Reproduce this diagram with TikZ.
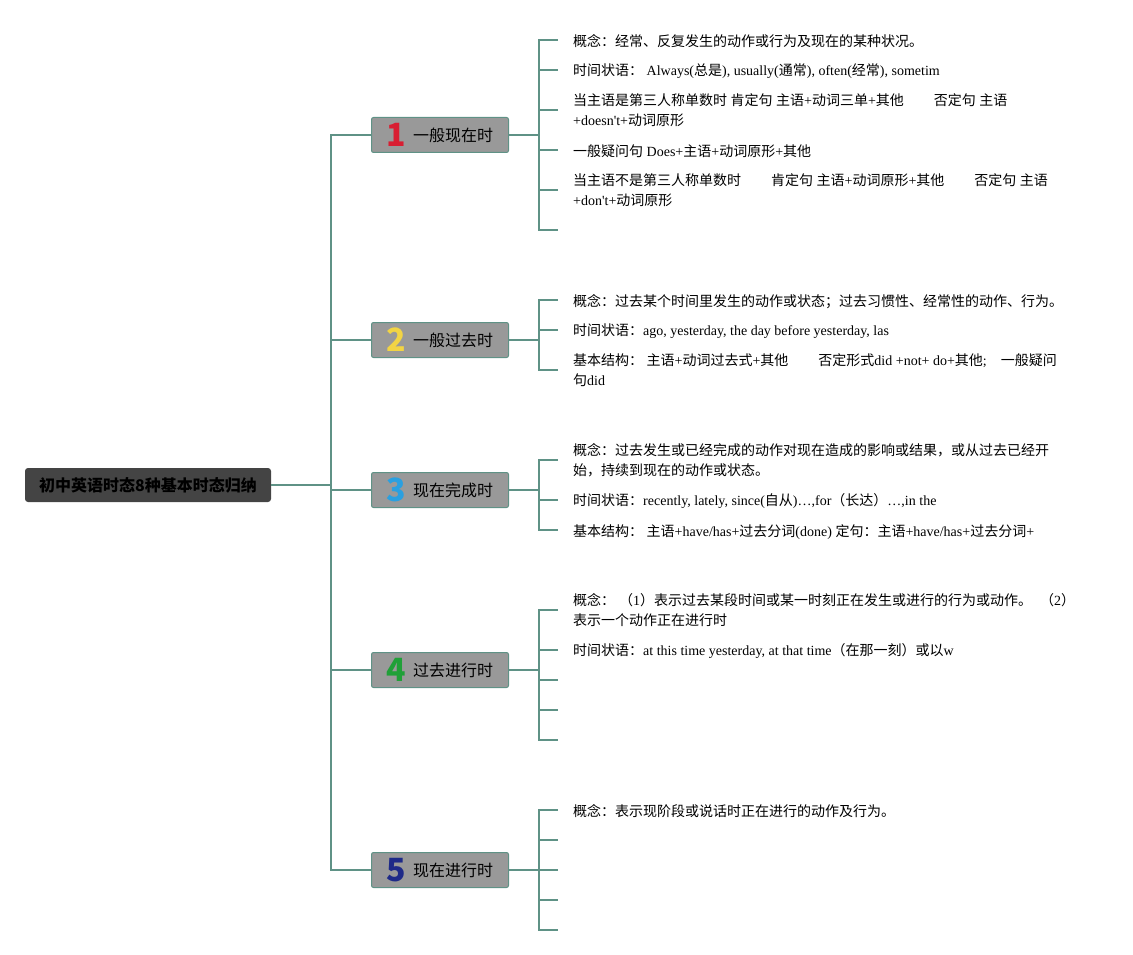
\documentclass[tikz,border=0pt]{standalone}
\usepackage{fontspec}
\setmainfont{Liberation Serif}
\newfontfamily\cjk{Noto Sans CJK SC}
\usepackage{tikz}

% han characters switch to the cjk family inside leaf texts
\newXeTeXintercharclass\hanclass
\newcount\hanchar
\hanchar="3000 \loop\ifnum\hanchar<"3040 \XeTeXcharclass\hanchar=\hanclass \advance\hanchar by 1 \repeat
\hanchar="4E00 \loop\ifnum\hanchar<"A000 \XeTeXcharclass\hanchar=\hanclass \advance\hanchar by 1 \repeat
\hanchar="FF00 \loop\ifnum\hanchar<"FFF0 \XeTeXcharclass\hanchar=\hanclass \advance\hanchar by 1 \repeat
\XeTeXinterchartoks 0 \hanclass = {\cjk}
\XeTeXinterchartoks 4095 \hanclass = {\cjk}
\XeTeXinterchartoks \hanclass 0 = {\rmfamily}
\XeTeXinterchartoks \hanclass 4095 = {\rmfamily}
\newcommand{\hanon}{\XeTeXinterchartokenstate=1\relax\rule{0pt}{15pt}}

\definecolor{linkteal}{HTML}{5F9286}
\definecolor{rootgray}{HTML}{444444}
\definecolor{tensegray}{HTML}{999999}
\definecolor{numred}{HTML}{D81E32}
\definecolor{numyellow}{HTML}{F2D444}
\definecolor{numblue}{HTML}{2AA0E0}
\definecolor{numgreen}{HTML}{20A038}
\definecolor{numnavy}{HTML}{1E2A88}

\newcommand{\tensenum}[2]{\smash{\raisebox{-5pt}{\fontsize{32}{32}\selectfont\bfseries\color{#1}#2}}\hspace{7pt}}

\begin{document}
\begin{tikzpicture}[x=1pt,y=-1pt,
  root/.style={fill=rootgray,rounded corners=3pt,minimum width=246pt,minimum height=34pt,inner sep=0pt,
    font=\cjk\bfseries\fontsize{16}{20}\selectfont},
  tense/.style={draw=linkteal,line width=1pt,fill=tensegray,rounded corners=2pt,minimum width=137pt,minimum height=35pt,inner sep=0pt,
    font=\cjk\fontsize{16}{20}\selectfont},
  leaf/.style={anchor=west,inner sep=0pt,align=left,execute at begin node=\hanon,
    font=\fontsize{14}{20}\selectfont},
  link/.style={draw=linkteal,line width=1.9pt}]
\useasboundingbox (0,0) rectangle (1133,955);

% root and tenses
\node[root] (root) at (148,485) {初中英语时态8种基本时态归纳};
\node[tense] (b1) at (440,135) {\tensenum{numred}{1}一般现在时};
\node[tense] (b2) at (440,340) {\tensenum{numyellow}{2}一般过去时};
\node[tense] (b3) at (440,490) {\tensenum{numblue}{3}现在完成时};
\node[tense] (b4) at (440,670) {\tensenum{numgreen}{4}过去进行时};
\node[tense] (b5) at (440,870) {\tensenum{numnavy}{5}现在进行时};

% leaves
\node[leaf] (l11) at (573,40) {概念：经常、反复发生的动作或行为及现在的某种状况。};
\node[leaf] (l12) at (573,70) {时间状语： Always(总是), usually(通常), often(经常), sometim};
\node[leaf] (l13) at (573,110) {当主语是第三人称单数时 肯定句 主语+动词三单+其他\hspace{30pt}否定句 主语\\+doesn\textquotesingle t+动词原形};
\node[leaf] (l14) at (573,150) {一般疑问句 Does+主语+动词原形+其他};
\node[leaf] (l15) at (573,190) {当主语不是第三人称单数时\hspace{30pt}肯定句 主语+动词原形+其他\hspace{30pt}否定句 主语\\+don\textquotesingle t+动词原形};
\coordinate (l16) at (573,230);

\node[leaf] (l21) at (573,300) {概念：过去某个时间里发生的动作或状态；过去习惯性、经常性的动作、行为。};
\node[leaf] (l22) at (573,330) {时间状语：ago, yesterday, the day before yesterday, las};
\node[leaf] (l23) at (573,370) {基本结构： 主语+动词过去式+其他\hspace{30pt}否定形式did +not+ do+其他;\hspace{14pt}一般疑问\\句did};

\node[leaf] (l31) at (573,460) {概念：过去发生或已经完成的动作对现在造成的影响或结果，或从过去已经开\\始，持续到现在的动作或状态。};
\node[leaf] (l32) at (573,500) {时间状语：recently, lately, since(自从)…,for（长达）…,in the};
\node[leaf] (l33) at (573,530) {基本结构： 主语+have/has+过去分词(done) 定句：主语+have/has+过去分词+};

\node[leaf] (l41) at (573,610) {概念：\hspace{4pt}（1）表示过去某段时间或某一时刻正在发生或进行的行为或动作。\hspace{8pt}（2）\\表示一个动作正在进行时};
\node[leaf] (l42) at (573,650) {时间状语：at this time yesterday, at that time（在那一刻）或以w};
\coordinate (l43) at (573,680);
\coordinate (l44) at (573,710);
\coordinate (l45) at (573,740);

\node[leaf] (l51) at (573,810) {概念：表示现阶段或说话时正在进行的动作及行为。};
\coordinate (l52) at (573,840);
\coordinate (l53) at (573,870);
\coordinate (l54) at (573,900);
\coordinate (l55) at (573,930);

% connectors
\foreach \t in {b1,b2,b3,b4,b5}
  \draw[link] (root.east) -- ++(60,0) |- (\t.west);
\foreach \l in {l11,l12,l13,l14,l15,l16}
  \draw[link] (b1.east) -- ++(30,0) |- ([xshift=-15pt]\l.west);
\foreach \l in {l21,l22,l23}
  \draw[link] (b2.east) -- ++(30,0) |- ([xshift=-15pt]\l.west);
\foreach \l in {l31,l32,l33}
  \draw[link] (b3.east) -- ++(30,0) |- ([xshift=-15pt]\l.west);
\foreach \l in {l41,l42,l43,l44,l45}
  \draw[link] (b4.east) -- ++(30,0) |- ([xshift=-15pt]\l.west);
\foreach \l in {l51,l52,l53,l54,l55}
  \draw[link] (b5.east) -- ++(30,0) |- ([xshift=-15pt]\l.west);
\end{tikzpicture}
\end{document}
